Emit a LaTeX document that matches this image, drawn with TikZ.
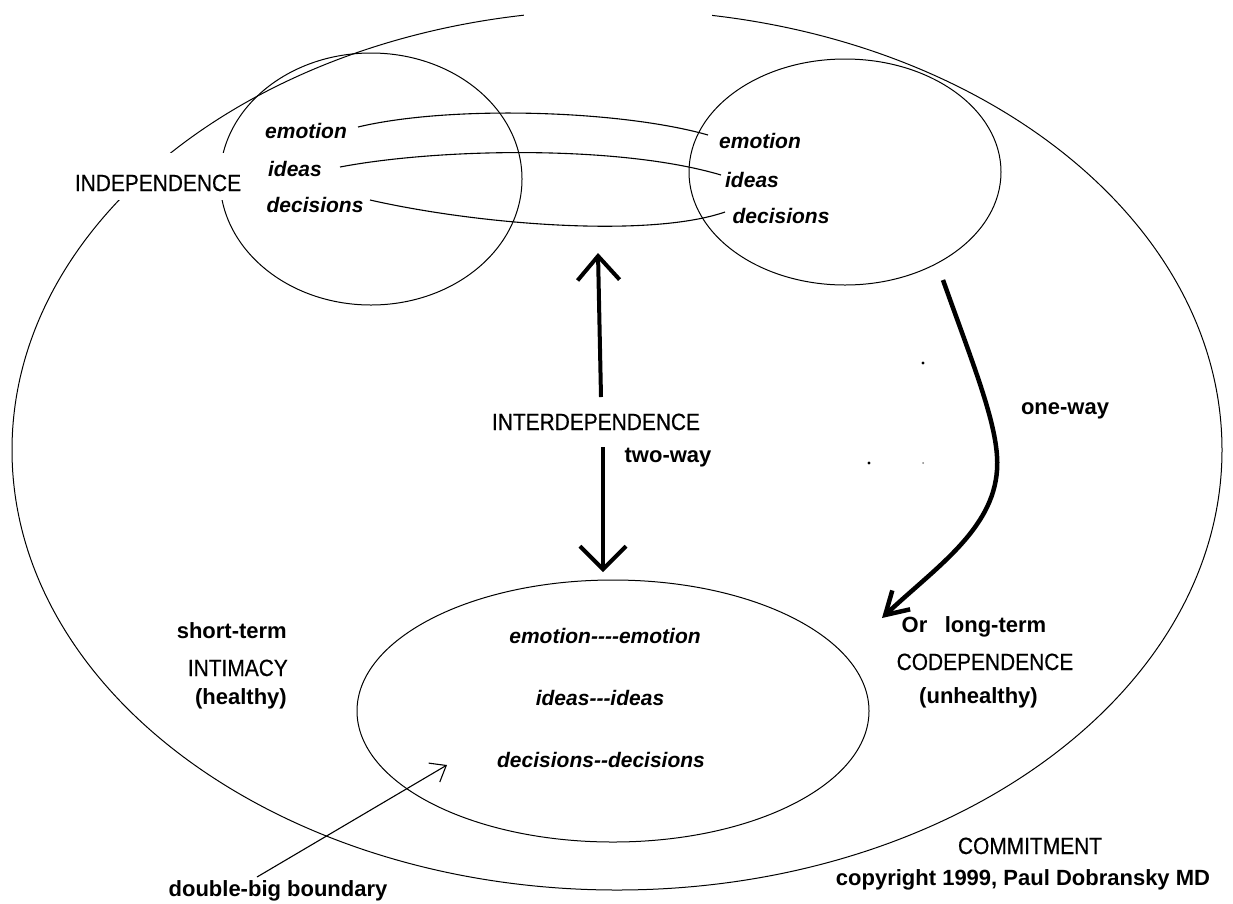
\documentclass[tikz,border=0pt]{standalone}
\usepackage{fontspec}
\setmainfont{Liberation Sans}
\newfontfamily\capfam[FakeStretch=0.89,FakeBold=0.5]{Liberation Sans}
\usetikzlibrary{arrows.meta,shapes.geometric}
\newcommand\capfont{\capfam\fontsize{23.5}{28}\selectfont}
\newcommand\lblfont{\bfseries\fontsize{22}{26}\selectfont}
\newcommand\itfont{\bfseries\itshape\fontsize{21}{25}\selectfont}
\newcommand\hy{-\kern0pt}
\begin{document}
\begin{tikzpicture}[x=1pt,y=-1pt,
  capl/.style={font=\capfont, inner sep=0pt},
  lbl/.style={font=\lblfont, inner sep=0pt},
  itl/.style={font=\itfont, inner sep=0pt},
  outline/.style={draw, line width=1pt},
  oval/.style={outline, ellipse, inner sep=0pt},
  bigarrow/.style={line width=4pt},
  thinline/.style={line width=1.1pt}]
\useasboundingbox (0,0) rectangle (1233,903);
\fill[white] (0,0) rectangle (1233,903);

% outer ellipse (commitment) with a gap at the top
\draw[outline] (617,450) ellipse [x radius=605pt, y radius=440pt];
\fill[white] (524,0) rectangle (712,28);

% the two persons and the shared intimacy zone
\node[oval, minimum width=302pt, minimum height=252pt] (left) at (371,179) {};
\node[oval, minimum width=312pt, minimum height=226pt] (right) at (845,172) {};
\node[oval, minimum width=512pt, minimum height=262pt] (inner) at (613,711) {};

% INDEPENDENCE label masks the lines behind it
\fill[white] (74,153) rectangle (243,200);
\node[capl] (indep) at (158,183) {INDEPENDENCE};

% words inside the circles
\node[itl, anchor=base] (le) at (306,138) {emotion};
\node[itl, anchor=base] (li) at (295,176) {ideas};
\node[itl, anchor=base] (ld) at (315,212) {decisions};
\node[itl, anchor=base] (re) at (760,148) {emotion};
\node[itl, anchor=base] (ri) at (752,187) {ideas};
\node[itl, anchor=base] (rd) at (781,223) {decisions};

% linking curves
\coordinate (le1) at (358,127); \coordinate (re1) at (708,135);
\coordinate (li1) at (340,167); \coordinate (ri1) at (721,175);
\coordinate (ld1) at (370,200); \coordinate (rd1) at (725,212);
\draw[thinline] (le1) .. controls (450,105) and (620,110) .. (re1);
\draw[thinline] (li1) .. controls (440,148) and (620,145) .. (ri1);
\draw[thinline] (ld1) .. controls (480,225) and (650,238) .. (rd1);

% interdependence arrows
\node[capl, anchor=base] (inter) at (596,430) {INTERDEPENDENCE};
\node[lbl, anchor=base] (two) at (668,462) {two-way};
\coordinate (ua1) at (601,397); \coordinate (ua2) at (598,253);
\coordinate (da1) at (603,447); \coordinate (da2) at (603,572);
\draw[bigarrow, -{Straight Barb[length=24pt,width=42pt]}] (ua1) -- (ua2);
\draw[bigarrow, -{Straight Barb[length=23pt,width=46pt]}] (da1) -- (da2);

% one-way curved arrow
\coordinate (c1) at (943,280); \coordinate (c2) at (997,470); \coordinate (c3) at (882,618);
\draw[line width=4.5pt, -{Straight Barb[length=22pt,width=26pt]}]
  (c1) .. controls (975,370) and (1000,430) .. (c2)
       .. controls (993,530) and (935,568) .. (c3);
\node[lbl, anchor=base] (one) at (1065,414) {one-way};

% stray dots
\fill (923,363) circle[radius=1.6pt];
\fill (869,463) circle[radius=1.6pt];
\fill[gray] (923,463) circle[radius=1pt];

% inner ellipse texts
\node[itl, anchor=base] (ee) at (605,643) {emotion\hy\hy\hy\hy emotion};
\node[itl, anchor=base] (ii) at (600,705) {ideas\hy\hy\hy ideas};
\node[itl, anchor=base] (dd) at (601,767) {decisions\hy\hy decisions};

% left labels
\node[lbl, anchor=base east] (short) at (287,638) {short-term};
\node[capl, anchor=base east] (intim) at (288,676) {INTIMACY};
\node[lbl, anchor=base east] (healthy) at (287,704) {(healthy)};

% right labels
\node[lbl, anchor=base] (or) at (914.5,632) {Or};
\node[lbl, anchor=base] (long) at (995.5,632) {long-term};
\node[capl, anchor=base] (codep) at (985,670) {CODEPENDENCE};
\node[lbl, anchor=base] (unh) at (978.5,703) {(unhealthy)};

% boundary arrow
\node[lbl, anchor=base] (dbb) at (278,896) {double-big boundary};
\coordinate (b1) at (257,877); \coordinate (b2) at (447,765);
\draw[thinline, -{Straight Barb[length=14pt,width=22pt]}] (b1) -- (b2);

% bottom right
\node[capl, anchor=base] (commit) at (1030,854) {COMMITMENT};
\node[lbl, anchor=base] (copy) at (1023,885) {copyright 1999, Paul Dobransky MD};
\end{tikzpicture}
\end{document}
